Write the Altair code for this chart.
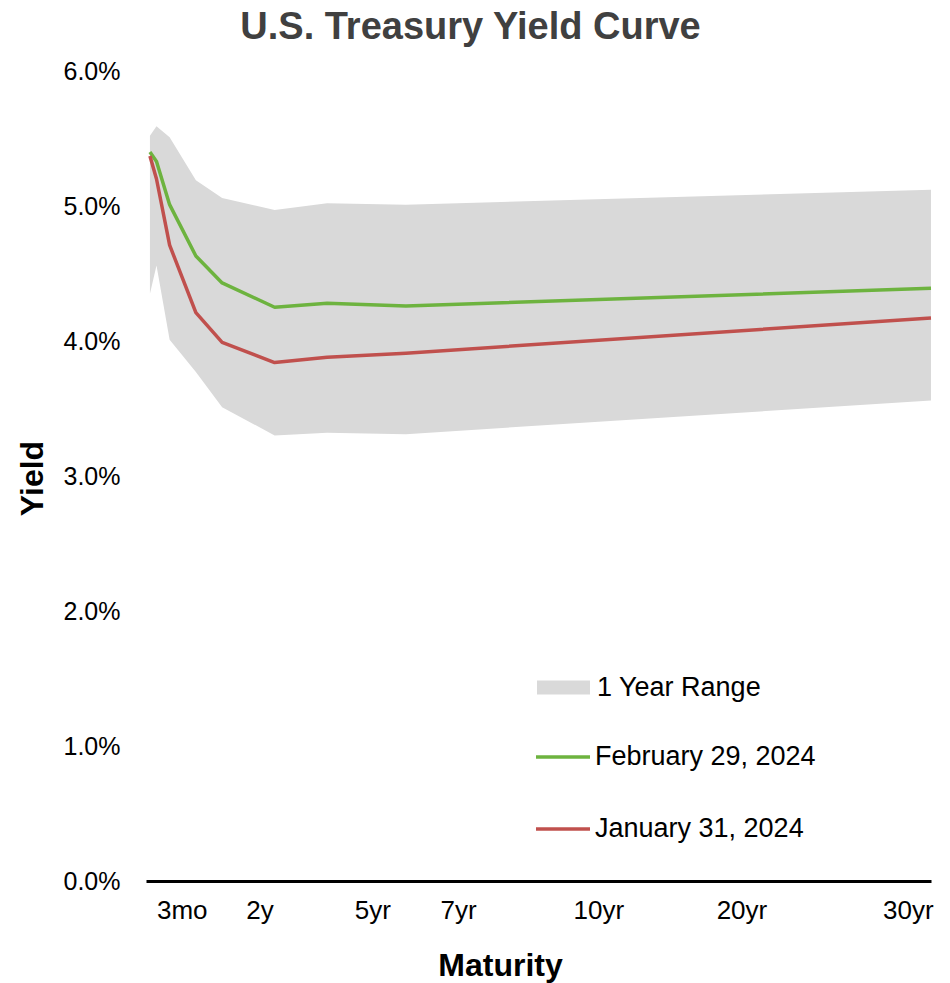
import altair as alt
import pandas as pd

# Treasury curve tenors (years to maturity)
tenors = ["3mo", "6mo", "1y", "2y", "3y", "5y", "7y", "10y", "30y"]
tenor_years = [0.25, 0.5, 1, 2, 3, 5, 7, 10, 30]

# Yields in percent
feb_29_2024 = [5.40, 5.33, 5.01, 4.63, 4.43, 4.25, 4.28, 4.26, 4.39]
jan_31_2024 = [5.37, 5.20, 4.71, 4.21, 3.99, 3.84, 3.88, 3.91, 4.17]

# Trailing one-year high / low for each tenor
range_high = [5.52, 5.59, 5.51, 5.19, 5.06, 4.97, 5.02, 5.01, 5.12]
range_low = [4.35, 4.56, 4.01, 3.77, 3.51, 3.30, 3.32, 3.31, 3.56]

# Maturity axis labels and where they sit along the axis (in years)
x_label_text = ["3mo", "2y", "5yr", "7yr", "10yr", "20yr", "30yr"]
x_label_at = [1.46, 4.42, 8.72, 11.99, 17.33, 22.78, 29.12]

y_ticks = [0, 1, 2, 3, 4, 5, 6]

series_feb = "February 29, 2024"
series_jan = "January 31, 2024"
band_name = "1 Year Range"

band_df = pd.DataFrame({
    "years": tenor_years,
    "low": range_low,
    "high": range_high,
    "band": band_name,
})

line_df = pd.concat([
    pd.DataFrame({"years": tenor_years, "yield": feb_29_2024, "series": series_feb}),
    pd.DataFrame({"years": tenor_years, "yield": jan_31_2024, "series": series_jan}),
], ignore_index=True)

FONT = "Liberation Sans"

x_scale = alt.Scale(domain=[0.1, 30], nice=False, zero=False)
y_scale = alt.Scale(domain=[0, 6], nice=False)

label_lookup = "[{}][indexof([{}], datum.value)]".format(
    ",".join("'{}'".format(t) for t in x_label_text),
    ",".join(str(v) for v in x_label_at),
)

x_axis = alt.Axis(
    values=x_label_at,
    labelExpr=label_lookup,
    domain=True,
    domainColor="#000000",
    domainWidth=3,
    ticks=False,
    grid=False,
    labelFont=FONT,
    labelFontSize=26,
    labelColor="#000000",
    labelPadding=16,
    labelFlush=False,
    labelOverlap=False,
    title="Maturity",
    titleFont=FONT,
    titleFontSize=32,
    titleFontWeight="bold",
    titleColor="#000000",
    titleX=354,
    titleY=94,
    titleAnchor="middle",
    titleBaseline="alphabetic",
)

y_axis = alt.Axis(
    values=y_ticks,
    labelExpr="format(datum.value, '.1f') + '%'",
    domain=False,
    ticks=False,
    grid=False,
    labelFont=FONT,
    labelFontSize=25,
    labelColor="#000000",
    labelPadding=26,
    title="Yield",
    titleFont=FONT,
    titleFontSize=32,
    titleFontWeight="bold",
    titleColor="#000000",
    titleAngle=270,
    titleX=-114,
    titleY=407,
    titleAlign="center",
    titleBaseline="middle",
)

band = alt.Chart(band_df).mark_area(opacity=1, strokeWidth=0).encode(
    x=alt.X("years:Q", scale=x_scale, axis=x_axis),
    y=alt.Y("low:Q", scale=y_scale, axis=y_axis),
    y2="high:Q",
    fill=alt.Fill(
        "band:N",
        scale=alt.Scale(domain=[band_name], range=["#d9d9d9"]),
        legend=alt.Legend(
            title=None,
            orient="none",
            legendX=391,
            legendY=590,
            padding=0,
            symbolType="M-1,-0.26H1V0.26H-1Z",
            symbolSize=2809,
            symbolStrokeWidth=0,
            symbolOpacity=1,
            labelFont=FONT,
            labelFontSize=27,
            labelColor="#000000",
            labelOffset=7,
            labelLimit=0,
        ),
    ),
)

lines = alt.Chart(line_df).mark_line(strokeWidth=3.5, strokeJoin="round").encode(
    x=alt.X("years:Q", scale=x_scale),
    y=alt.Y("yield:Q", scale=y_scale),
    stroke=alt.Stroke(
        "series:N",
        scale=alt.Scale(domain=[series_feb, series_jan], range=["#6db33f", "#c0504d"]),
        legend=alt.Legend(
            title=None,
            orient="none",
            legendX=388,
            legendY=657,
            padding=0,
            symbolType="stroke",
            symbolSize=2916,
            symbolStrokeWidth=3.5,
            rowPadding=30,
            labelFont=FONT,
            labelFontSize=27,
            labelColor="#000000",
            labelOffset=3,
            labelLimit=0,
        ),
    ),
    order=alt.Order("years:Q"),
)

chart = alt.layer(band, lines).properties(
    width=785,
    height=810,
    padding={"left": 146, "top": 71, "right": 19, "bottom": 102},
    autosize=alt.AutoSizeParams(type="none"),
    title=alt.TitleParams(
        "U.S. Treasury Yield Curve",
        font=FONT,
        fontSize=38,
        fontWeight="bold",
        color="#404040",
        anchor="middle",
        frame="group",
        dx=-68,
        offset=12,
    ),
).configure_view(stroke=None)

chart.save("out.html", embed_options={"renderer": "svg", "actions": False})
